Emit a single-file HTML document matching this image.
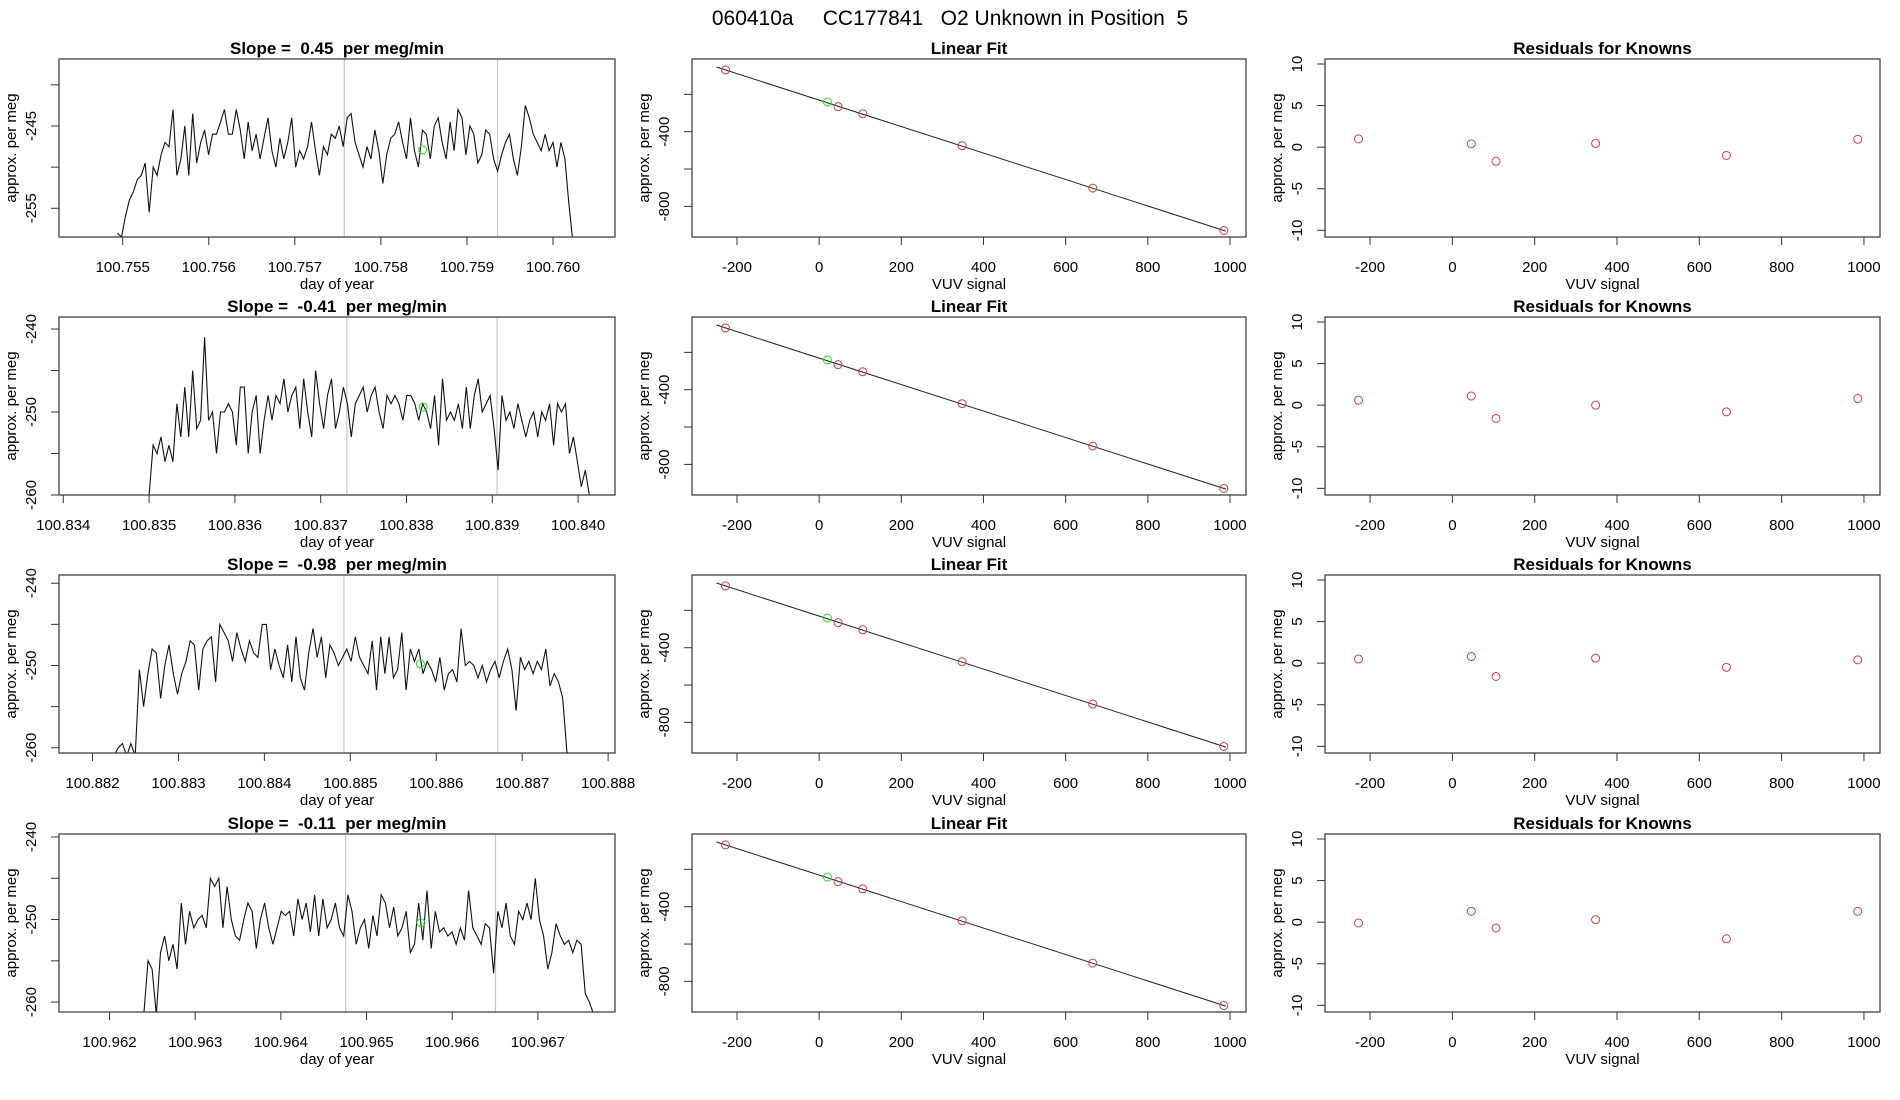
<!DOCTYPE html>
<html><head><meta charset="utf-8"><style>
html,body{margin:0;padding:0;background:#fff;}
svg{display:block;font-family:"Liberation Sans",sans-serif;}
svg text{white-space:pre;}
</style></head><body>
<svg id="fig" width="1900" height="1100" viewBox="0 0 1900 1100" xmlns="http://www.w3.org/2000/svg">
<rect x="0" y="0" width="1900" height="1100" fill="#fff"/>
<text x="950" y="25" font-size="21" text-anchor="middle" style="white-space:pre">060410a     CC177841   O2 Unknown in Position  5</text>
</svg>
<script>
// ---- data ----
const slopeLabels = ["0.45","-0.41","-0.98","-0.11"];
const tsStart = [100.75494, 100.83500, 100.88225, 100.96240];
const tsEnd   = [100.76023, 100.84013, 100.88757, 100.96765];
const tsXlimLo = [100.75426, 100.83395, 100.88161, 100.96141];
const tsXlimHi = [100.76072, 100.84043, 100.88808, 100.96790];
const tsYlimLo = [-258.49, -260.0, -260.64, -261.2];
const tsYlimHi = [-236.86, -238.55, -239.0, -239.64];
const tsXTicks = [
 ["100.755","100.756","100.757","100.758","100.759","100.760"],
 ["100.834","100.835","100.836","100.837","100.838","100.839","100.840"],
 ["100.882","100.883","100.884","100.885","100.886","100.887","100.888"],
 ["100.962","100.963","100.964","100.965","100.966","100.967"]];
const tsYTicks = [[-240,-245,-250,-255],[-240,-245,-250,-255,-260],[-240,-245,-250,-255,-260],[-240,-245,-250,-255,-260]];
const tsYTickLabels = [["-245","-255"],["-240","-250","-260"],["-240","-250","-260"],["-240","-250","-260"]];
const tsLabelVals = [[-245,-255],[-240,-250,-260],[-240,-250,-260],[-240,-250,-260]];
const vLine1 = [100.757575, 100.837305, 100.884925, 100.964755];
const vLine2 = [100.759355, 100.839055, 100.886715, 100.966505];
const greenT = [100.758485, 100.838195, 100.885815, 100.965635];
const greenV = [-247.9, -249.4, -249.8, -250.4];
const series1 = [-258,-258.5,-256,-254,-253,-251.5,-251,-249.5,-255.5,-250,-251,-248.5,-247,-247.5,-243,-251,-249,-245,-251,-243.5,-249.5,-247,-245.5,-248.5,-246,-246,-244.5,-243,-246,-246,-243,-245.5,-249,-244.5,-248,-246,-249,-246.5,-244,-248,-250,-246.5,-249,-247,-244,-250,-248,-249,-247.5,-244.5,-248,-251,-247.5,-248.5,-246,-246.5,-245,-247.5,-244,-243.5,-247,-248.5,-250,-247.5,-249,-245.5,-248,-252,-248.5,-246.5,-246,-244.5,-247,-249,-244,-248,-250,-245.5,-246,-249,-245,-244,-247,-249,-244.5,-248,-243,-244,-248.5,-245,-246,-249.5,-248.5,-245.5,-246,-249,-250.5,-248.5,-247,-246,-249,-251,-247.5,-242.5,-244,-246,-247,-248,-246,-248,-247,-250,-247,-249,-254.5,-259];
const series2 = [-260,-254,-255,-253,-256,-254,-256,-249,-253,-247,-253,-245,-252,-251,-241,-251,-250,-255,-250,-250,-249,-250,-254,-247,-247,-255,-250,-248,-255,-251,-248,-251,-248,-249,-246,-250,-248,-247,-252,-246,-250,-253,-245,-249,-252,-248,-246,-252,-250,-247,-249,-253,-249,-248,-247,-250,-248,-247,-250,-252,-248,-249,-248,-249,-251,-248,-248,-249,-251,-249,-250,-252,-248,-254,-246,-251,-250,-251,-249,-252,-247,-252,-248,-246,-250,-249,-248,-252,-257,-248,-251,-250,-252,-249,-251,-253,-251,-250,-253,-250,-251,-249,-254,-249,-250,-249,-255,-253,-256,-259,-257,-260];
const series3 = [-261,-260,-259.5,-261,-259.5,-261,-250.5,-255,-251,-248,-248.5,-254,-250,-247.5,-251,-253.5,-251,-249.5,-247,-247.5,-253,-248,-247,-246.5,-252,-245,-246,-247,-249.5,-246,-248,-249.5,-247,-248.5,-249,-245,-245,-250.5,-248,-250,-251.5,-247.5,-252,-246.5,-251.5,-253,-248.5,-245.5,-249,-246.5,-251.5,-247.5,-248.5,-250,-249,-248,-249.5,-246.5,-249,-250,-251,-247,-253,-246.5,-251,-246.5,-251.5,-250.5,-246,-253,-248,-249.5,-248,-251,-249.5,-250.5,-252,-249,-253,-251,-250.5,-252,-245.5,-250,-249.5,-250,-251.5,-250,-252,-250.5,-249.5,-251.5,-249.5,-248,-250.5,-255.5,-249,-250.5,-249.5,-251,-249.5,-250.5,-248,-252.5,-251,-252,-254,-260.5,-261];
const series4 = [-261.5,-255,-256,-261.5,-254,-252,-255,-253,-256,-248,-253,-249,-251,-250,-249.5,-251,-245,-246,-245,-251,-246,-250,-252,-252.5,-250,-248,-249,-253.5,-250,-248,-251,-253,-251,-249,-249.5,-249,-252,-247.5,-250,-248,-251.5,-247,-252,-247.5,-251,-250,-248,-251,-252,-247,-249,-253,-251,-250,-253.5,-249.5,-252,-247,-248,-251,-248.5,-252,-251,-249,-254,-253,-248,-252.5,-246.5,-253.5,-249,-251.5,-251,-252,-251.5,-253,-251,-252.5,-246.5,-251,-252,-253,-250.5,-251,-256.5,-249,-251,-248,-252,-253,-249,-250,-248,-250,-245,-250,-252,-256,-254,-250.5,-252,-253,-252.5,-254,-252.5,-253,-259,-260,-261.5];
const tsSeries = [series1, series2, series3, series4];

const knownX = [-228, 46, 106, 348, 666, 985];
const knownY = [-69, -266, -304, -475, -702, -929];
const unknownX = 20;
const unknownY = -241;
const fitIntercept = -230.7;
const fitSlope = -0.709;
const fitXRange = [-250, 990];
const fitXTicks = [-200,0,200,400,600,800,1000];
const fitYTicks = [-200,-400,-600,-800];
const fitYLabels = [-400,-800];
const resid = [
 [1.0, 0.4, -1.7, 0.45, -1.0, 0.95],
 [0.6, 1.1, -1.6, 0.0, -0.8, 0.8],
 [0.5, 0.8, -1.6, 0.6, -0.5, 0.4],
 [-0.1, 1.3, -0.7, 0.3, -2.0, 1.3]];
const residYTicks = [10,5,0,-5,-10];

// ---- layout ----
const NS = "http://www.w3.org/2000/svg";
const svg = document.getElementById('fig');
const colX = [[59,615],[692,1246],[1325,1880]];
const rowTop = [59,317,575,834];
const boxH = 178;
const RED = "#cd4040", GREEN = "#22e022";

function mk(tag, attrs, parent){
  const e = document.createElementNS(NS, tag);
  for (const k in attrs) e.setAttribute(k, attrs[k]);
  (parent||svg).appendChild(e);
  return e;
}
function scale(d0,d1,r0,r1){ return v => r0 + (v-d0)*(r1-r0)/(d1-d0); }
function txt(parent, x, y, s, size, opts){
  const t = mk('text', Object.assign({x:x, y:y, 'font-size':size, 'text-anchor':'middle'}, opts||{}), parent);
  t.textContent = s;
  return t;
}

function frame(g, x0, x1, y0, y1, title, xlab){
  const r = mk('rect', {x:x0, y:y0, width:x1-x0, height:y1-y0, fill:'none', stroke:'#333', 'stroke-width':1.2}, g);
  
  
  const t = txt(g, (x0+x1)/2, y0-5, title, 17, {'font-weight':'bold', style:'white-space:pre'});
  
  
  const xl = txt(g, (x0+x1)/2, y1+52, xlab, 15);
  
  
  const yl = txt(g, 0, 0, 'approx. per meg', 15, {transform:`translate(${x0-43},${(y0+y1)/2}) rotate(-90)`});
  
  
}
function xTick(g, x, y1, label){
  const l = mk('line', {x1:x, x2:x, y1:y1, y2:y1+8, stroke:'#333', 'stroke-width':1}, g);
  
  
  const t = txt(g, x, y1+35, label, 15);
  
  
}
function yTick(g, x0, y){
  const l = mk('line', {x1:x0-8, x2:x0, y1:y, y2:y, stroke:'#333', 'stroke-width':1}, g);
  
  
}
function yLabel(g, x0, y, s){
  const t = txt(g, 0, 0, s, 15, {transform:`translate(${x0-23},${y}) rotate(-90)`});
  
  
}
function circle(g, cx, cy, color, name){
  const c = mk('circle', {cx:cx, cy:cy, r:4, fill:'none', stroke:color, 'stroke-width':1}, g);
  
  
}

for (let r = 0; r < 4; r++){
  const y0 = rowTop[r], y1 = y0 + boxH;
  // ---- time series panel ----
  {
    const [x0,x1] = colX[0];
    const g = mk('g', {});
    
    
    const sx = scale(tsXlimLo[r], tsXlimHi[r], x0, x1);
    const sy = scale(tsYlimLo[r], tsYlimHi[r], y1, y0);
    const cp = mk('clipPath', {id:'clip'+r}, g);
    mk('rect', {x:x0, y:y0, width:x1-x0, height:y1-y0}, cp);
    [vLine1[r], vLine2[r]].forEach(v => {
      const l = mk('line', {x1:sx(v), x2:sx(v), y1:y0, y2:y1, stroke:'#c8c8c8', 'stroke-width':1.2}, g);
      
      
    });
    const vals = tsSeries[r], n = vals.length;
    const pts = vals.map((v,i) => {
      const t = tsStart[r] + i*(tsEnd[r]-tsStart[r])/(n-1);
      return sx(t).toFixed(1) + ',' + sy(v).toFixed(1);
    }).join(' ');
    const pl = mk('polyline', {points:pts, fill:'none', stroke:'#111', 'stroke-width':1.1, 'clip-path':`url(#clip${r})`}, g);
    
    
    circle(g, sx(greenT[r]), sy(greenV[r]), GREEN, 'unknown-mean-point');
    frame(g, x0, x1, y0, y1, `Slope =  ${slopeLabels[r]}  per meg/min`, 'day of year');
    tsXTicks[r].forEach(s => xTick(g, sx(parseFloat(s)), y1, s));
    tsYTicks[r].forEach(v => yTick(g, x0, sy(v)));
    tsYTickLabels[r].forEach((s,i) => yLabel(g, x0, sy(tsLabelVals[r][i]), s));
  }
  // ---- linear fit panel ----
  {
    const [x0,x1] = colX[1];
    const g = mk('g', {});
    
    
    const sx = scale(-309.5, 1039, x0, x1);
    const sy = scale(-964, -10.6, y1, y0);
    const l = mk('line', {x1:sx(fitXRange[0]), y1:sy(fitIntercept+fitSlope*fitXRange[0]), x2:sx(fitXRange[1]), y2:sy(fitIntercept+fitSlope*fitXRange[1]), stroke:'#222', 'stroke-width':1}, g);
    
    
    knownX.forEach((x,i) => circle(g, sx(x), sy(knownY[i]), RED, 'known-standard-point'));
    circle(g, sx(unknownX), sy(unknownY), GREEN, 'unknown-point');
    frame(g, x0, x1, y0, y1, 'Linear Fit', 'VUV signal');
    fitXTicks.forEach(v => xTick(g, sx(v), y1, String(v)));
    fitYTicks.forEach(v => yTick(g, x0, sy(v)));
    fitYLabels.forEach(v => yLabel(g, x0, sy(v), String(v)));
  }
  // ---- residual panel ----
  {
    const [x0,x1] = colX[2];
    const g = mk('g', {});
    
    
    const sx = scale(-309.5, 1039, x0, x1);
    const sy = scale(-10.8, 10.6, y1, y0);
    knownX.forEach((x,i) => circle(g, sx(x), sy(resid[r][i]), RED, 'residual-point'));
    frame(g, x0, x1, y0, y1, 'Residuals for Knowns', 'VUV signal');
    fitXTicks.forEach(v => xTick(g, sx(v), y1, String(v)));
    residYTicks.forEach(v => { yTick(g, x0, sy(v)); yLabel(g, x0, sy(v), String(v)); });
  }
}
</script>
</body></html>
